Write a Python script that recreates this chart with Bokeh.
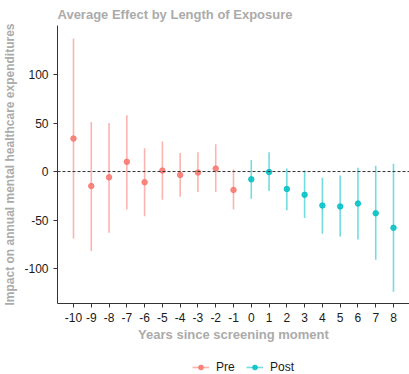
from bokeh.plotting import figure
from bokeh.layouts import column
from bokeh.models import ColumnDataSource, Range1d, FixedTicker, Span, Legend, LegendItem
from bokeh.embed import file_html
from bokeh.resources import INLINE

# Event-study estimates by years since screening
years = list(range(-10, 9))
estimate = [34, -15, -6, 10, -11, 1, -3.5, -1, 3, -19, -8, -0.5, -18, -24, -35, -36, -33, -43, -58]
ci_low = [-69, -82, -63, -39, -46, -29, -26, -21, -21, -39, -28, -20, -40, -48, -64, -67, -70, -91, -124]
ci_high = [137, 51, 50, 58, 24, 31, 19, 20, 28, 2, 12, 20, 3, 1, -6.5, -4, 4, 6, 8]
period = ["Pre" if y < 0 else "Post" for y in years]
groups = ["Pre", "Post"]
y_ticks = [-100, -50, 0, 50, 100]

colors = {"Pre": "#F8766D", "Post": "#00BFC4"}
FONT = "Liberation Sans"
GREY = "#ABABAB"
BAR_ALPHA = 0.55
PT_ALPHA = 0.85

p = figure(width=409, height=345, output_backend="svg", toolbar_location=None,
           x_range=Range1d(-10.9, 8.9), y_range=Range1d(-136, 150.5),
           title="Average Effect by Length of Exposure",
           min_border_left=57, min_border_right=0, min_border_top=0, min_border_bottom=42)

p.title.text_font = FONT
p.title.text_font_size = "13px"
p.title.text_font_style = "bold"
p.title.text_color = GREY
p.title.align = "left"
p.title.standoff = 8
p.title.offset = 0

p.xgrid.visible = False
p.ygrid.visible = False
p.outline_line_color = None

p.add_layout(Span(location=0, dimension="width", line_color="#333333",
                  line_dash="3 2", line_width=1))

for grp in groups:
    idx = [i for i, g in enumerate(period) if g == grp]
    src = ColumnDataSource(dict(
        x=[years[i] for i in idx],
        est=[estimate[i] for i in idx],
        lo=[ci_low[i] for i in idx],
        hi=[ci_high[i] for i in idx],
    ))
    p.segment(x0="x", y0="lo", x1="x", y1="hi", source=src,
              line_color=colors[grp], line_alpha=BAR_ALPHA, line_width=1.6)
    p.scatter(x="x", y="est", source=src, size=5.5, fill_color=colors[grp],
              line_color=colors[grp], fill_alpha=PT_ALPHA, line_alpha=PT_ALPHA)

for ax in (p.xaxis[0], p.yaxis[0]):
    ax.axis_line_color = "#333333"
    ax.major_tick_line_color = "#333333"
    ax.major_tick_out = 4
    ax.major_tick_in = 0
    ax.minor_tick_line_color = None
    ax.major_label_text_font = FONT
    ax.major_label_text_font_size = "12px"
    ax.major_label_text_color = "#1A1A1A"
    ax.axis_label_text_font = FONT
    ax.axis_label_text_font_size = "12px"
    ax.axis_label_text_font_style = "bold"
    ax.axis_label_text_color = GREY

p.xaxis[0].ticker = FixedTicker(ticks=years)
p.yaxis[0].ticker = FixedTicker(ticks=y_ticks)
p.xaxis[0].major_label_overrides = {y: str(y) for y in years}
p.yaxis[0].major_label_overrides = {y: str(y) for y in y_ticks}
p.xaxis[0].axis_label = "Years since screening moment"
p.xaxis[0].axis_label_text_font_size = "13px"
p.yaxis[0].axis_label = "Impact on annual mental healthcare expenditures"
p.xaxis[0].axis_label_standoff = 2
p.yaxis[0].axis_label_standoff = 4

# Legend strip beneath the chart: key glyphs come from empty renderers
leg = figure(width=409, height=29, output_backend="svg", toolbar_location=None,
             x_axis_type=None, y_axis_type=None,
             x_range=Range1d(0, 1), y_range=Range1d(0, 1),
             min_border_left=0, min_border_right=0, min_border_top=0, min_border_bottom=0)
leg.outline_line_color = None

items = []
for grp in groups:
    empty = ColumnDataSource(dict(x=[float("nan")], y=[float("nan")]))
    seg = leg.segment(x0="x", y0="y", x1="x", y1="y", source=empty,
                      line_color=colors[grp], line_alpha=BAR_ALPHA, line_width=1.6)
    pts = leg.scatter(x="x", y="y", source=empty, size=5.5, fill_color=colors[grp],
                      line_color=colors[grp], fill_alpha=PT_ALPHA, line_alpha=PT_ALPHA)
    items.append(LegendItem(label=grp, renderers=[seg, pts]))

legend = Legend(items=items, orientation="horizontal", location=(135, 0),
                label_text_font=FONT, label_text_font_size="12px",
                label_text_color="#1A1A1A", border_line_color=None,
                background_fill_alpha=0,
                glyph_width=17, glyph_height=12, label_height=12,
                label_standoff=7, spacing=10, margin=0, padding=0)
leg.add_layout(legend, "center")

open("out.html", "w").write(file_html(column(p, leg), INLINE))
